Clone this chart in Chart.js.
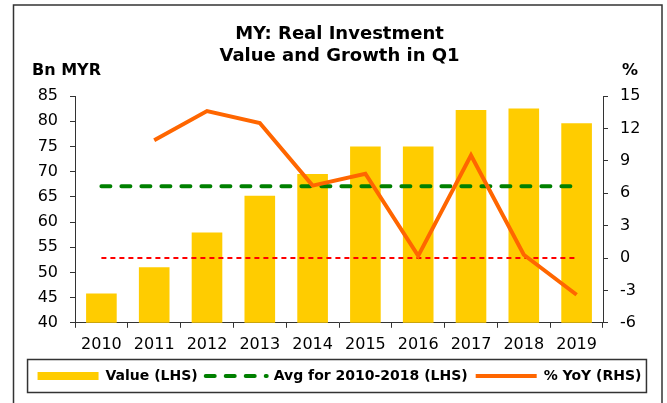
<!DOCTYPE html>
<html>
<head>
<meta charset="utf-8">
<script src="https://cdn.jsdelivr.net/npm/chart.js@4"></script>
<style>
  html, body { margin: 0; padding: 0; background: #fff; }
  #wrap { width: 667px; height: 403px; }
</style>
</head>
<body>
<div id="wrap"><canvas id="chart"></canvas></div>
<script>
// data
const years = ["2010", "2011", "2012", "2013", "2014", "2015", "2016", "2017", "2018", "2019"];
const value = [45.8, 51.0, 57.9, 65.2, 69.5, 75.0, 75.0, 82.2, 82.5, 79.6];
const avg = [67.1, 67.1, 67.1, 67.1, 67.1, 67.1, 67.1, 67.1, 67.1, 67.1];
const yoy = [null, 10.9, 13.6, 12.5, 6.7, 7.8, 0.2, 9.5, 0.3, -3.4];
const zero = [0, 0, 0, 0, 0, 0, 0, 0, 0, 0];
const leftTicks = [40, 45, 50, 55, 60, 65, 70, 75, 80, 85];
const rightTicks = [-6, -3, 0, 3, 6, 9, 12, 15];

const FONT = "'DejaVu Sans', sans-serif";

// frame, unit labels and the box round the legend
const extras = {
  id: "extras",
  afterDraw(chart) {
    const ctx = chart.ctx;
    const a = chart.chartArea;
    ctx.save();
    ctx.strokeStyle = "#333";
    ctx.lineWidth = 1.5;
    ctx.strokeRect(13.5, 5, 648.5, 420);

    ctx.fillStyle = "#000";
    ctx.font = "bold 16px " + FONT;
    ctx.textBaseline = "alphabetic";
    ctx.textAlign = "left";
    ctx.fillText("Bn MYR", a.left - 43, a.top - 21);
    ctx.textAlign = "right";
    ctx.fillText("%", a.right + 35, a.top - 21);

    const boxes = chart.legend.legendHitBoxes;
    if (boxes && boxes.length) {
      const first = boxes[0];
      const last = boxes[boxes.length - 1];
      const cy = first.top + first.height / 2;
      ctx.lineWidth = 1.5;
      ctx.strokeStyle = "#333";
      ctx.strokeRect(first.left - 10, cy - 16.5, last.left + last.width + 5 - (first.left - 10), 33);
    }
    ctx.restore();
  }
};

new Chart(document.getElementById("chart"), {
  type: "bar",
  data: {
    labels: years,
    datasets: [
      {
        label: "Value (LHS)",
        data: value,
        backgroundColor: "#ffcc00",
        yAxisID: "y",
        barPercentage: 0.58,
        categoryPercentage: 1,
        order: 4
      },
      {
        type: "line",
        label: "Avg for 2010-2018 (LHS)",
        data: avg,
        borderColor: "#008000",
        borderWidth: 4,
        borderDash: [9, 11],
        borderCapStyle: "round",
        pointRadius: 0,
        yAxisID: "y",
        order: 2
      },
      {
        type: "line",
        label: "% YoY (RHS)",
        data: yoy,
        borderColor: "#ff6600",
        borderWidth: 4,
        pointRadius: 0,
        tension: 0,
        yAxisID: "y1",
        order: 1
      },
      {
        type: "line",
        label: "zero",
        data: zero,
        borderColor: "#ff0000",
        borderWidth: 2,
        borderDash: [5, 4],
        pointRadius: 0,
        yAxisID: "y1",
        order: 3
      }
    ]
  },
  options: {
    responsive: true,
    maintainAspectRatio: false,
    animation: false,
    layout: { padding: { left: 12, right: 0, top: 0, bottom: 10 } },
    plugins: {
      tooltip: { enabled: false },
      title: {
        display: true,
        text: ["MY: Real Investment", "Value and Growth in Q1"],
        color: "#000",
        font: { family: FONT, size: 18, weight: "bold", lineHeight: 1.25 },
        padding: { top: 23, bottom: 28 }
      },
      legend: {
        position: "bottom",
        labels: {
          color: "#000",
          font: { family: FONT, size: 14, weight: "bold" },
          usePointStyle: true,
          pointStyle: "line",
          pointStyleWidth: 61,
          boxHeight: 14,
          padding: 8,
          filter: (item) => item.text !== "zero",
          sort: (a, b) => a.datasetIndex - b.datasetIndex,
          generateLabels(chart) {
            const items = Chart.defaults.plugins.legend.labels.generateLabels(chart);
            items.forEach((it) => {
              it.pointStyle = "line";
              if (it.datasetIndex === 0) {
                it.strokeStyle = "#ffcc00";
                it.lineWidth = 8;
                it.lineDash = [];
                it.lineCap = "butt";
              } else if (it.datasetIndex === 1) {
                it.strokeStyle = "#008000";
                it.lineWidth = 4;
                it.lineDash = [9, 11];
                it.lineCap = "round";
              } else {
                it.lineWidth = 4;
                it.lineDash = [];
                it.lineCap = "butt";
              }
            });
            return items;
          }
        }
      }
    },
    scales: {
      x: {
        grid: { drawOnChartArea: false, drawTicks: true, tickLength: 5, color: "#333", offset: true },
        border: { display: true, color: "#333", width: 1 },
        ticks: { color: "#000", font: { family: FONT, size: 16 }, padding: 7, maxRotation: 0, autoSkip: false }
      },
      y: {
        position: "left",
        min: leftTicks[0],
        max: leftTicks[leftTicks.length - 1],
        afterBuildTicks: (axis) => { axis.ticks = leftTicks.map((v) => ({ value: v })); },
        afterFit: (axis) => { axis.width = 63; },
        grid: { drawOnChartArea: false, drawTicks: true, tickLength: 5, color: "#333" },
        border: { display: true, color: "#333", width: 1 },
        ticks: { color: "#000", font: { family: FONT, size: 16 }, padding: 12 }
      },
      y1: {
        position: "right",
        min: rightTicks[0],
        max: rightTicks[rightTicks.length - 1],
        afterBuildTicks: (axis) => { axis.ticks = rightTicks.map((v) => ({ value: v })); },
        afterFit: (axis) => { axis.width = 64; },
        grid: { drawOnChartArea: false, drawTicks: true, tickLength: 5, color: "#333" },
        border: { display: true, color: "#333", width: 1 },
        ticks: { color: "#000", font: { family: FONT, size: 16 }, padding: 12 }
      }
    }
  },
  plugins: [extras]
});
</script>
</body>
</html>
